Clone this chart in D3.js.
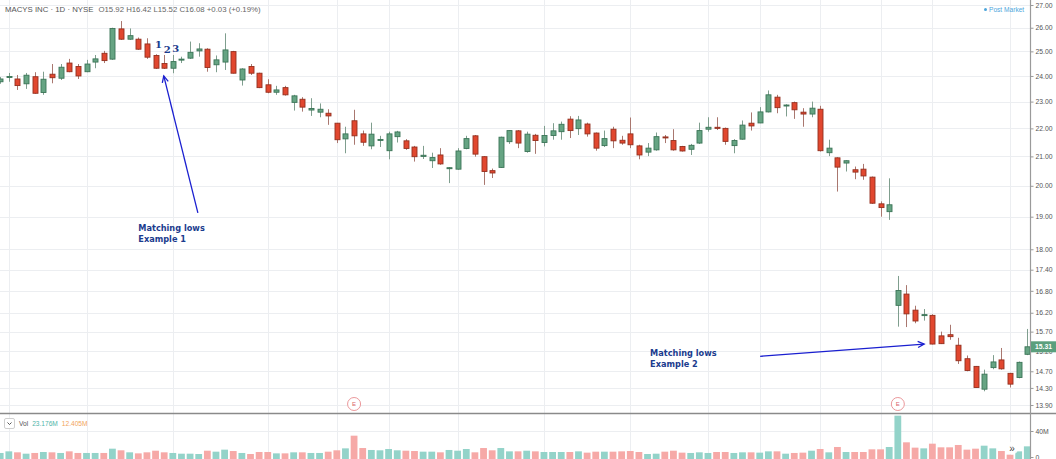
<!DOCTYPE html>
<html>
<head>
<meta charset="utf-8">
<script src="https://cdn.jsdelivr.net/npm/d3@7"></script>
<style>
  body { margin: 0; background: #fff; }
  svg { display: block; font-family: "Liberation Sans", Arial, sans-serif; }
</style>
</head>
<body>
<div id="chart"></div>
<script>
// daily candles, oldest first (index = trading day)
const open = [
  23.77, 23.97, 23.88, 23.69, 23.97, 23.35, 24.07, 23.91, 24.52, 24.38,
  24.17, 24.56, 24.92, 24.68, 25.95, 25.51, 25.51, 25.31, 24.83, 24.50,
  24.31, 24.67, 24.72, 25.02, 25.09, 24.45, 24.56, 24.99, 23.84, 24.38,
  24.11, 23.65, 23.36, 23.54, 22.97, 23.09, 22.68, 22.60, 22.56, 22.19,
  21.62, 22.28, 21.80, 21.37, 21.58, 21.20, 21.70, 21.55, 21.33, 21.00,
  20.85, 21.05, 20.60, 20.56, 21.28, 21.73, 20.99, 20.51, 20.62, 21.52,
  21.91, 21.17, 21.75, 21.49, 21.74, 21.88, 22.34, 21.99, 22.16, 21.83,
  21.38, 21.97, 21.57, 21.80, 21.37, 21.15, 21.23, 21.69, 21.56, 21.35,
  21.25, 21.47, 21.97, 22.04, 22.00, 21.38, 21.61, 22.19, 22.20, 22.61,
  23.17, 22.86, 22.96, 22.60, 22.53, 22.71, 21.13, 20.95, 20.77, 20.54,
  20.56, 20.29, 19.41, 19.16, 16.40, 16.71, 16.27, 16.14, 16.13, 15.59,
  15.62, 15.35, 15.01, 14.82, 14.27, 14.79, 14.98, 14.65, 14.55, 15.12
];
const high = [
  23.96, 24.12, 24.04, 24.12, 24.15, 24.17, 24.48, 24.48, 24.69, 24.48,
  24.65, 24.85, 25.02, 26.00, 26.29, 25.97, 25.58, 25.55, 24.88, 24.85,
  24.85, 24.78, 25.41, 25.34, 25.13, 24.83, 25.76, 25.02, 24.31, 24.48,
  24.13, 23.87, 23.61, 23.61, 23.26, 23.17, 23.13, 22.93, 22.71, 22.20,
  22.06, 22.69, 21.92, 22.21, 21.73, 21.88, 21.91, 21.61, 21.37, 21.37,
  21.13, 21.29, 20.63, 21.29, 21.73, 21.76, 21.01, 20.58, 21.70, 21.94,
  21.94, 21.88, 21.80, 22.09, 22.19, 22.25, 22.45, 22.46, 22.21, 21.85,
  21.92, 22.06, 21.73, 22.40, 21.41, 21.47, 21.85, 21.76, 21.97, 21.37,
  21.44, 22.21, 22.41, 22.41, 22.03, 21.61, 22.29, 22.59, 22.79, 23.43,
  23.26, 22.90, 23.00, 22.75, 23.00, 22.84, 21.59, 20.97, 20.87, 20.65,
  20.74, 20.31, 19.49, 20.25, 17.22, 16.96, 16.39, 16.30, 16.16, 15.70,
  15.88, 15.54, 15.09, 14.83, 14.74, 15.10, 15.28, 14.66, 14.94, 15.77
];
const low = [
  23.69, 23.77, 23.45, 23.49, 23.30, 23.26, 23.71, 23.84, 24.15, 23.88,
  24.15, 24.31, 24.52, 24.65, 25.48, 25.48, 25.06, 24.69, 24.28, 24.28,
  24.11, 24.52, 24.69, 24.78, 24.17, 24.15, 24.24, 24.10, 23.62, 24.04,
  23.52, 23.32, 23.26, 23.23, 22.66, 22.62, 22.46, 22.41, 22.13, 21.47,
  21.11, 21.41, 21.37, 21.25, 21.33, 20.90, 21.49, 21.23, 20.82, 20.91,
  20.60, 20.71, 20.09, 20.54, 21.25, 20.99, 20.03, 20.26, 20.60, 21.44,
  21.29, 21.13, 21.09, 21.35, 21.59, 21.59, 21.65, 21.76, 21.70, 21.20,
  21.33, 21.29, 21.41, 21.29, 20.90, 21.01, 21.20, 21.47, 21.20, 21.17,
  21.05, 21.44, 21.88, 21.94, 21.41, 21.11, 21.59, 21.92, 22.19, 22.59,
  22.56, 22.44, 22.35, 22.06, 22.41, 21.17, 21.01, 19.81, 20.48, 20.22,
  20.20, 19.41, 19.00, 18.90, 15.83, 15.82, 15.92, 15.99, 15.37, 15.38,
  15.49, 14.88, 14.70, 14.31, 14.22, 14.75, 14.74, 14.31, 14.53, 15.10
];
const close = [
  23.88, 23.98, 23.62, 24.03, 23.32, 23.87, 23.93, 24.35, 24.17, 24.00,
  24.48, 24.69, 24.62, 25.97, 25.51, 25.66, 25.09, 24.76, 24.31, 24.31,
  24.58, 24.68, 24.96, 25.10, 24.34, 24.65, 25.06, 24.11, 24.28, 24.11,
  23.54, 23.36, 23.45, 23.26, 23.22, 22.79, 22.74, 22.71, 22.46, 21.59,
  21.80, 21.73, 21.50, 21.79, 21.60, 21.80, 21.87, 21.28, 20.99, 21.04,
  20.96, 20.74, 20.61, 21.19, 21.63, 21.08, 20.48, 20.43, 21.68, 21.92,
  21.47, 21.79, 21.56, 21.74, 21.91, 22.15, 21.92, 22.31, 21.80, 21.29,
  21.63, 21.55, 21.47, 21.41, 21.05, 21.29, 21.70, 21.68, 21.23, 21.19,
  21.39, 21.92, 22.04, 22.00, 21.53, 21.56, 22.12, 22.09, 22.61, 23.26,
  22.77, 22.87, 22.69, 22.53, 22.75, 21.20, 21.29, 20.63, 20.85, 20.46,
  20.33, 19.43, 19.29, 19.38, 16.81, 16.17, 15.98, 16.15, 15.38, 15.39,
  15.57, 14.96, 14.72, 14.31, 14.63, 14.93, 14.76, 14.39, 14.92, 15.31
];
// volume in millions
const volume = [
  6.2, 8.7, 7.2, 5.1, 6.2, 7.7, 7.2, 6.2, 8.7, 6.2,
  6.2, 6.2, 6.2, 12.8, 10.3, 7.2, 5.6, 7.2, 9.7, 7.2,
  6.2, 5.1, 5.1, 4.6, 9.7, 8.2, 11.3, 9.2, 6.2, 4.6,
  7.7, 7.7, 5.6, 5.6, 7.2, 7.2, 6.2, 6.2, 8.2, 10.3,
  13.3, 32.8, 13.8, 10.8, 10.3, 12.3, 10.3, 9.7, 9.2, 8.2,
  8.2, 7.2, 10.8, 9.7, 12.3, 7.2, 13.8, 10.3, 13.8, 8.7,
  8.7, 9.7, 8.7, 7.7, 7.7, 7.7, 7.7, 8.7, 6.7, 8.2,
  8.2, 8.2, 8.7, 9.2, 7.7, 4.6, 5.1, 8.2, 9.7, 6.7,
  6.2, 7.2, 6.2, 7.7, 7.7, 6.2, 7.2, 7.2, 6.7, 8.7,
  8.7, 5.1, 6.2, 6.7, 9.7, 12.3, 7.2, 15.4, 7.7, 7.7,
  7.7, 11.8, 11.8, 15.4, 63.6, 22.6, 14.4, 13.3, 20.5, 14.9,
  14.9, 18.5, 11.3, 12.8, 17.4, 13.3, 9.2, 3.6, 8.7, 16.4
];

const priceTicks = [27, 26, 25, 24, 23, 22, 21, 20, 19, 18, 17.4, 16.8, 16.2, 15.7, 15.2, 14.7, 14.3, 13.9];
const volTicks = [0, 40];
const timeGridDays = [1, 10, 20, 31, 39, 45, 53, 63, 73, 82, 88, 95, 102, 108, 117];
const earningsDays = [41, 104];

const w = 1056;
const h = 459;
const axisX = 1030;
const paneBottom = 413;

const xScale = d3.scaleLinear()
  .domain([0, open.length - 1])
  .range([0.2, 1027.3]);

const yScale = d3.scaleLog()
  .domain([13.9, 27])
  .range([405, 5]);

const vScale = d3.scaleLinear()
  .domain([0, 40])
  .range([457, 431]);

const svg = d3.select('#chart')
  .append('svg')
  .attr('width', w)
  .attr('height', h);

svg.append('clipPath').attr('id', 'plot')
  .append('rect').attr('x', 0).attr('y', 0).attr('width', axisX).attr('height', paneBottom);
svg.append('clipPath').attr('id', 'volclip')
  .append('rect').attr('x', 0).attr('y', paneBottom).attr('width', axisX).attr('height', h - paneBottom);

// grid
const grid = svg.append('g').attr('stroke', '#eceef1').attr('stroke-width', 1);
grid.selectAll('.hg')
  .data(priceTicks)
  .enter()
  .append('line')
  .attr('x1', 0).attr('x2', axisX)
  .attr('y1', function(d) { return Math.round(yScale(d)) + 0.5; })
  .attr('y2', function(d) { return Math.round(yScale(d)) + 0.5; });
grid.selectAll('.vg')
  .data(timeGridDays)
  .enter()
  .append('line')
  .attr('x1', function(d) { return Math.round(xScale(d)) + 0.5; })
  .attr('x2', function(d) { return Math.round(xScale(d)) + 0.5; })
  .attr('y1', 0).attr('y2', h);
grid.append('line')
  .attr('x1', 0).attr('x2', axisX)
  .attr('y1', Math.round(vScale(40)) + 0.5).attr('y2', Math.round(vScale(40)) + 0.5);

// volume
svg.append('g')
  .attr('clip-path', 'url(#volclip)')
  .selectAll('rect')
  .data(volume)
  .enter()
  .append('rect')
  .attr('x', function(d, i) { return xScale(i) - 3.4; })
  .attr('width', 6.8)
  .attr('y', function(d) { return vScale(d); })
  .attr('height', function(d) { return vScale(0) - vScale(d) + 2; })
  .attr('fill', function(d, i) { return close[i] >= open[i] ? '#93d3c9' : '#f6a9a7'; });

// candles
const idx = d3.range(open.length);
const candle = svg.append('g')
  .attr('clip-path', 'url(#plot)')
  .selectAll('g')
  .data(idx)
  .enter()
  .append('g');

candle.append('line')
  .attr('x1', function(i) { return Math.round(xScale(i)) + 0.5; })
  .attr('x2', function(i) { return Math.round(xScale(i)) + 0.5; })
  .attr('y1', function(i) { return yScale(high[i]); })
  .attr('y2', function(i) { return yScale(low[i]); })
  .attr('stroke', function(i) { return close[i] >= open[i] ? '#7f9e8e' : '#a9776f'; })
  .attr('stroke-width', 1);

candle.append('rect')
  .attr('x', function(i) { return Math.round(xScale(i)) - 2; })
  .attr('width', 5)
  .attr('y', function(i) { return yScale(Math.max(open[i], close[i])); })
  .attr('height', function(i) {
    return Math.max(1, yScale(Math.min(open[i], close[i])) - yScale(Math.max(open[i], close[i])));
  })
  .attr('fill', function(i) { return close[i] >= open[i] ? '#66a483' : '#e1472f'; })
  .attr('stroke', function(i) { return close[i] >= open[i] ? '#3b7457' : '#93301f'; })
  .attr('stroke-width', 0.9);

// separator between panes and price axis line
svg.append('line')
  .attr('x1', 0).attr('x2', w)
  .attr('y1', paneBottom + 0.5).attr('y2', paneBottom + 0.5)
  .attr('stroke', '#8a8a8a').attr('stroke-width', 1.4);
svg.append('line')
  .attr('x1', axisX + 0.5).attr('x2', axisX + 0.5)
  .attr('y1', 0).attr('y2', h)
  .attr('stroke', '#9a9a9a').attr('stroke-width', 1.2);

// price axis
const yAxis = d3.axisRight(yScale)
  .tickValues(priceTicks)
  .tickFormat(d3.format('.2f'))
  .tickSize(3)
  .tickPadding(2);
const ay = svg.append('g')
  .attr('transform', 'translate(' + (axisX + 0.5) + ',0)')
  .call(yAxis);
ay.select('.domain').remove();
ay.selectAll('line').attr('stroke', '#9a9a9a');
ay.selectAll('text')
  .attr('font-size', 6.8)
  .attr('fill', '#555')
  .attr('font-family', '"Liberation Sans", Arial, sans-serif');

const vAxis = d3.axisRight(vScale)
  .tickValues(volTicks)
  .tickFormat(function(d) { return d === 0 ? '0' : d + 'M'; })
  .tickSize(3)
  .tickPadding(2);
const av = svg.append('g')
  .attr('transform', 'translate(' + (axisX + 0.5) + ',0)')
  .call(vAxis);
av.select('.domain').remove();
av.selectAll('line').attr('stroke', '#9a9a9a');
av.selectAll('text')
  .attr('font-size', 6.8)
  .attr('fill', '#555')
  .attr('font-family', '"Liberation Sans", Arial, sans-serif');

// last price tag
const last = close[close.length - 1];
svg.append('rect')
  .attr('x', axisX + 1).attr('y', yScale(last) - 5.5)
  .attr('width', w - axisX - 1).attr('height', 11)
  .attr('fill', '#5b9f7d');
svg.append('text')
  .attr('x', axisX + 5).attr('y', yScale(last))
  .attr('dy', '0.35em')
  .attr('font-size', 6.8)
  .attr('font-weight', 'bold')
  .attr('fill', '#fff')
  .text(d3.format('.2f')(last));

// header
const header = svg.append('text')
  .attr('x', 5).attr('y', 12)
  .attr('font-size', 7.8)
  .attr('fill', '#555');
header.append('tspan').text('MACYS INC · 1D · NYSE');
header.append('tspan').attr('dx', 5).attr('fill', '#666')
  .text('O15.92  H16.42  L15.52  C16.08  +0.03 (+0.19%)');

svg.append('circle').attr('cx', 985.5).attr('cy', 9.5).attr('r', 1.5).attr('fill', '#4da6dc');
svg.append('text')
  .attr('x', 989).attr('y', 12)
  .attr('font-size', 6.6)
  .attr('fill', '#4da6dc')
  .text('Post Market');

// volume legend
svg.append('rect')
  .attr('x', 4.5).attr('y', 418.5).attr('width', 10).attr('height', 10).attr('rx', 1.5)
  .attr('fill', '#fff').attr('stroke', '#cfcfcf');
svg.append('path')
  .attr('d', 'M7.5,422.5 L9.5,424.5 L11.5,422.5')
  .attr('fill', 'none').attr('stroke', '#444').attr('stroke-width', 0.9);
const vl = svg.append('text').attr('x', 19).attr('y', 426).attr('font-size', 6.6);
vl.append('tspan').attr('fill', '#555').text('Vol');
vl.append('tspan').attr('dx', 4).attr('fill', '#4fb5a9').text('23.176M');
vl.append('tspan').attr('dx', 4).attr('fill', '#f2a45c').text('12.405M');

// earnings markers
const em = svg.selectAll('.earn')
  .data(earningsDays)
  .enter()
  .append('g');
em.append('circle')
  .attr('cx', function(d) { return xScale(d); })
  .attr('cy', 404)
  .attr('r', 6.5)
  .attr('fill', '#fff')
  .attr('stroke', '#e88b8f')
  .attr('stroke-width', 0.9);
em.append('text')
  .attr('x', function(d) { return xScale(d); })
  .attr('y', 404)
  .attr('dy', '0.35em')
  .attr('text-anchor', 'middle')
  .attr('font-size', 6)
  .attr('fill', '#d9646a')
  .text('E');

// scroll button
svg.append('circle').attr('cx', 1012).attr('cy', 448).attr('r', 6.5).attr('fill', '#fff').attr('opacity', 0.85);
svg.append('text')
  .attr('x', 1012).attr('y', 448).attr('dy', '0.35em')
  .attr('text-anchor', 'middle').attr('font-size', 10).attr('fill', '#444')
  .text('»');

// annotations
const navy = '#1b3c8e';
const arrowBlue = '#1a1fd0';
const countLabels = [
  { t: '1', i: 18, p: 25.30 },
  { t: '2', i: 19, p: 25.09 },
  { t: '3', i: 20, p: 25.13 }
];
svg.selectAll('.cnt')
  .data(countLabels)
  .enter()
  .append('text')
  .attr('x', function(d) { return xScale(d.i) + 3; })
  .attr('y', function(d) { return yScale(d.p); })
  .attr('dy', '0.35em')
  .attr('text-anchor', 'middle')
  .attr('font-family', '"DejaVu Serif", serif')
  .attr('font-weight', 'bold')
  .attr('font-size', 10)
  .attr('fill', navy)
  .text(function(d) { return d.t; });

const notes = [
  { lines: ['Matching lows', 'Example 1'], i: 16, p: 18.55 },
  { lines: ['Matching lows', 'Example 2'], i: 75.3, p: 15.08 }
];
notes.forEach(function(n) {
  const t = svg.append('text')
    .attr('x', xScale(n.i)).attr('y', yScale(n.p))
    .attr('font-family', '"DejaVu Sans", sans-serif')
    .attr('font-weight', 'bold')
    .attr('font-size', 8.2)
    .attr('fill', navy);
  n.lines.forEach(function(l, k) {
    t.append('tspan').attr('x', xScale(n.i)).attr('dy', k === 0 ? 0 : 11).text(l);
  });
});

const arrows = [
  { from: [22.9, 19.12], to: [18.95, 24.0] },
  { from: [88.05, 15.07], to: [107.05, 15.38] }
];
arrows.forEach(function(a) {
  const x1 = xScale(a.from[0]), y1 = yScale(a.from[1]);
  const x2 = xScale(a.to[0]), y2 = yScale(a.to[1]);
  const ang = Math.atan2(y2 - y1, x2 - x1);
  const len = 7;
  const g = svg.append('g').attr('stroke', arrowBlue).attr('stroke-width', 1.3).attr('fill', 'none');
  g.append('line').attr('x1', x1).attr('y1', y1).attr('x2', x2).attr('y2', y2);
  g.append('path').attr('d',
    'M' + (x2 - len * Math.cos(ang - 0.45)) + ',' + (y2 - len * Math.sin(ang - 0.45)) +
    'L' + x2 + ',' + y2 +
    'L' + (x2 - len * Math.cos(ang + 0.45)) + ',' + (y2 - len * Math.sin(ang + 0.45)));
});
</script>
</body>
</html>
